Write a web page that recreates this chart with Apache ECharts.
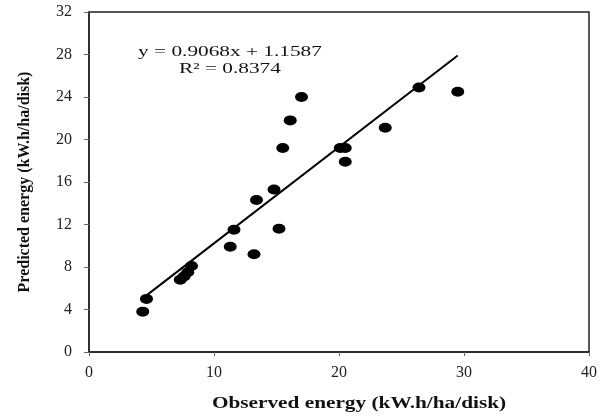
<!DOCTYPE html>
<html>
<head>
<meta charset="utf-8">
<script src="https://cdn.jsdelivr.net/npm/echarts@6/dist/echarts.min.js"></script>
<style>
  html, body { margin: 0; padding: 0; background: #fff; }
</style>
</head>
<body>
<div id="chart1" style="width:608px;height:416px"></div>
<script>
// observed vs predicted energy (kW.h/ha/disk)
var observed  = [4.3, 4.6, 7.3, 7.6, 7.9, 8.2, 11.3, 11.6, 13.2, 13.4, 14.8, 15.2, 15.5, 16.1, 17.0, 20.1, 20.5, 20.5, 23.7, 26.4, 29.5];
var predicted = [3.8, 5.0, 6.8, 7.1, 7.5, 8.1, 9.9, 11.5, 9.2, 14.3, 15.3, 11.6, 19.2, 21.8, 24.0, 19.2, 19.2, 17.9, 21.1, 24.9, 24.5];

// trendline y = 0.9068x + 1.1587
var slope = 0.9068;
var intercept = 1.1587;
var trendX = [4.6, 29.5];

var xTicks = [0, 10, 20, 30, 40];
var yTicks = [0, 4, 8, 12, 16, 20, 24, 28, 32];

var font = 'Liberation Serif';

var myChart1 = echarts.init(document.getElementById('chart1'));

var points = observed.map(function (x, i) { return [x, predicted[i]]; });
var trend = trendX.map(function (x) { return [x, slope * x + intercept]; });

var option = {
    animation: false,
    grid: {
        left: 89,
        right: 19,
        top: 12,
        bottom: 64,
        show: true,
        borderColor: '#222',
        borderWidth: 1.5
    },
    xAxis: {
        type: 'value',
        min: xTicks[0],
        max: xTicks[xTicks.length - 1],
        interval: 10,
        axisLine: { show: true, lineStyle: { color: '#222', width: 1.5 } },
        axisTick: { show: true, inside: false, length: 4, lineStyle: { color: '#666' } },
        axisLabel: { fontFamily: font, fontSize: 16, color: '#222', margin: 13 },
        splitLine: { show: false }
    },
    yAxis: {
        type: 'value',
        min: yTicks[0],
        max: yTicks[yTicks.length - 1],
        interval: 4,
        name: 'Predicted energy (kW.h/ha/disk)',
        nameLocation: 'middle',
        nameGap: 56,
        nameTextStyle: { fontFamily: font, fontSize: 16, fontWeight: 'bold', color: '#111' },
        axisLine: { show: true, lineStyle: { color: '#222', width: 1.5 } },
        axisTick: { show: true, inside: false, length: 5, lineStyle: { color: '#666' } },
        axisLabel: { fontFamily: font, fontSize: 16, color: '#222', margin: 17 },
        splitLine: { show: false }
    },
    graphic: [
        {
            type: 'text',
            x: 230,
            y: 61,
            scaleX: 1.42,
            style: {
                text: 'y = 0.9068x + 1.1587\nR² = 0.8374',
                fontFamily: font,
                fontSize: 15,
                fill: '#111',
                align: 'center',
                verticalAlign: 'middle',
                lineHeight: 17
            }
        },
        {
            type: 'text',
            x: 359,
            y: 404,
            scaleX: 1.33,
            style: {
                text: 'Observed energy (kW.h/ha/disk)',
                fontFamily: font,
                fontSize: 16,
                fontWeight: 'bold',
                fill: '#111',
                align: 'center',
                verticalAlign: 'middle'
            }
        }
    ],
    series: [
        {
            type: 'line',
            data: trend,
            symbol: 'none',
            lineStyle: { color: '#000', width: 2 },
            z: 2
        },
        {
            type: 'scatter',
            data: points,
            symbol: 'circle',
            symbolSize: [13, 10],
            itemStyle: { color: '#000', opacity: 1 },
            z: 3
        }
    ]
};

myChart1.setOption(option);
</script>
</body>
</html>
